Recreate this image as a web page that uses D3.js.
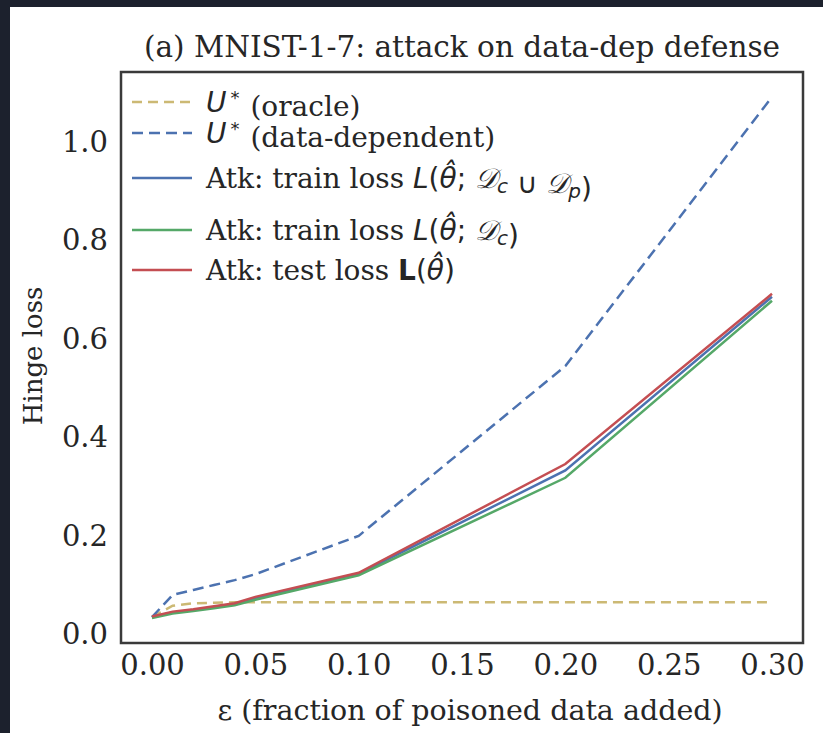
<!DOCTYPE html>
<html>
<head>
<meta charset="utf-8">
<script src="https://cdn.jsdelivr.net/npm/d3@7"></script>
<style>
  body { margin: 0; background: #1c212d; }
  svg { display: block; }
  text { font-family: "DejaVu Serif", serif; fill: #262626; }
</style>
</head>
<body>
<div id="chart"></div>
<script>
var eps = [0, 0.01, 0.02, 0.03, 0.04, 0.05, 0.1, 0.2, 0.3];
var oracle = [0.035, 0.058, 0.063, 0.064, 0.065, 0.065, 0.065, 0.065, 0.065];
var dataDep = [0.035, 0.08, 0.09, 0.1, 0.11, 0.122, 0.2, 0.545, 1.092];
var trainAll = [0.035, 0.044, 0.049, 0.055, 0.061, 0.073, 0.123, 0.333, 0.686];
var trainClean = [0.033, 0.042, 0.047, 0.053, 0.059, 0.07, 0.12, 0.318, 0.678];
var testLoss = [0.036, 0.046, 0.051, 0.057, 0.063, 0.076, 0.125, 0.346, 0.692];
var xTicks = [0, 0.05, 0.1, 0.15, 0.2, 0.25, 0.3];
var yTicks = [0, 0.2, 0.4, 0.6, 0.8, 1.0];

var W = 823, H = 733,
    margin = [72, 20, 90, 121], // top right bottom left
    width = 803 - margin[3],
    height = 643 - margin[0];

var svg = d3.select("#chart").append("svg")
    .attr("width", W)
    .attr("height", H);

svg.append("rect")
    .attr("x", 10).attr("y", 7)
    .attr("width", W - 10).attr("height", H - 7)
    .attr("fill", "#fff");

var g = svg.append("g")
    .attr("transform", "translate(" + margin[3] + "," + margin[0] + ")");

var x = d3.scaleLinear().domain([-0.015, 0.315]).range([0, width]);
var y = d3.scaleLinear().domain([-0.0178, 1.1428]).range([height, 0]);

var xAxis = g.append("g")
    .attr("transform", "translate(0," + height + ")")
    .call(d3.axisBottom(x).tickValues(xTicks).tickSize(0).tickPadding(11)
      .tickFormat(d3.format(".2f")));
var yAxis = g.append("g")
    .call(d3.axisLeft(y).tickValues(yTicks).tickSize(0).tickPadding(13)
      .tickFormat(d3.format(".1f")));
[xAxis, yAxis].forEach(function(a) {
  a.select(".domain").remove();
  a.selectAll("text")
    .style("font-family", "DejaVu Serif")
    .style("font-size", "29px")
    .attr("fill", "#262626");
});

var series = [
  {vals: oracle, color: "#ccb974", dash: "10,6"},
  {vals: dataDep, color: "#4c72b0", dash: "11,6"},
  {vals: trainAll, color: "#4c72b0", dash: null},
  {vals: trainClean, color: "#55a868", dash: null},
  {vals: testLoss, color: "#c44e52", dash: null}
];

var line = d3.line()
    .x(function(d, i) { return x(eps[i]); })
    .y(function(d) { return y(d); });

g.selectAll(".series")
    .data(series)
  .enter().append("path")
    .attr("class", "series")
    .attr("d", function(d) { return line(d.vals); })
    .attr("fill", "none")
    .attr("stroke", function(d) { return d.color; })
    .attr("stroke-width", 2.5)
    .attr("stroke-dasharray", function(d) { return d.dash; });

// frame
g.append("rect")
    .attr("width", width)
    .attr("height", height)
    .attr("fill", "none")
    .attr("stroke", "#3a3a3a")
    .attr("stroke-width", 2.5);

// legend
var legendY = [102, 133, 178, 230, 270];
var leg = g.append("g").attr("transform", "translate(" + (-margin[3]) + "," + (-margin[0]) + ")");
series.forEach(function(s, i) {
  leg.append("line")
    .attr("x1", 132).attr("x2", 192)
    .attr("y1", legendY[i]).attr("y2", legendY[i])
    .attr("stroke", s.color)
    .attr("stroke-width", 2.5)
    .attr("stroke-dasharray", s.dash);
});

function legText(i) {
  return leg.append("text")
    .attr("x", 206)
    .attr("y", legendY[i])
    .attr("dy", "0.35em")
    .style("font-size", "28px");
}
function mathIt(t, s) {
  return t.append("tspan").style("font-family", "DejaVu Sans").style("font-style", "italic").text(s);
}
function mathUp(t, s) {
  return t.append("tspan").style("font-family", "DejaVu Sans").text(s);
}
function sub(t, s) {
  return t.append("tspan").style("font-family", "DejaVu Sans").style("font-style", "italic")
    .style("font-size", "20px").attr("dy", "0.25em").text(s);
}
function unsub(t) {
  return t.append("tspan").attr("dy", "-0.25em").text("");
}
function star(t, label) {
  mathIt(t, "U");
  t.append("tspan").style("font-size", "18px").attr("dx", 4).attr("dy", "-0.45em")
    .style("font-family", "DejaVu Sans").text("*");
  t.append("tspan").attr("dy", "0.45em").attr("dx", 2).text(" " + label);
}

star(legText(0), "(oracle)");
star(legText(1), "(data-dependent)");

var t2 = legText(2);
t2.append("tspan").text("Atk: train loss ");
mathIt(t2, "L");
mathUp(t2, "(");
mathIt(t2, "θ\u0302");
mathUp(t2, "; ");
mathIt(t2, "𝒟");
sub(t2, "c");
unsub(t2);
mathUp(t2, " ∪ ");
mathIt(t2, "𝒟");
sub(t2, "p");
unsub(t2);
mathUp(t2, ")");

var t3 = legText(3);
t3.append("tspan").text("Atk: train loss ");
mathIt(t3, "L");
mathUp(t3, "(");
mathIt(t3, "θ\u0302");
mathUp(t3, "; ");
mathIt(t3, "𝒟");
sub(t3, "c");
unsub(t3);
mathUp(t3, ")");

var t4 = legText(4);
t4.append("tspan").text("Atk: test loss ");
t4.append("tspan").style("font-family", "DejaVu Sans").style("font-weight", "bold").text("L");
mathUp(t4, "(");
mathIt(t4, "θ\u0302");
mathUp(t4, ")");

// title and axis labels
svg.append("text")
    .attr("x", margin[3] + width / 2)
    .attr("y", 57)
    .attr("text-anchor", "middle")
    .style("font-size", "29.5px")
    .text("(a) MNIST-1-7: attack on data-dep defense");

svg.append("text")
    .attr("x", margin[3] + width / 2 + 8)
    .attr("y", 720)
    .attr("text-anchor", "middle")
    .style("font-size", "28.5px")
    .text("ε (fraction of poisoned data added)");

svg.append("text")
    .attr("transform", "translate(42,356) rotate(-90)")
    .attr("text-anchor", "middle")
    .style("font-size", "26px")
    .text("Hinge loss");
</script>
</body>
</html>
